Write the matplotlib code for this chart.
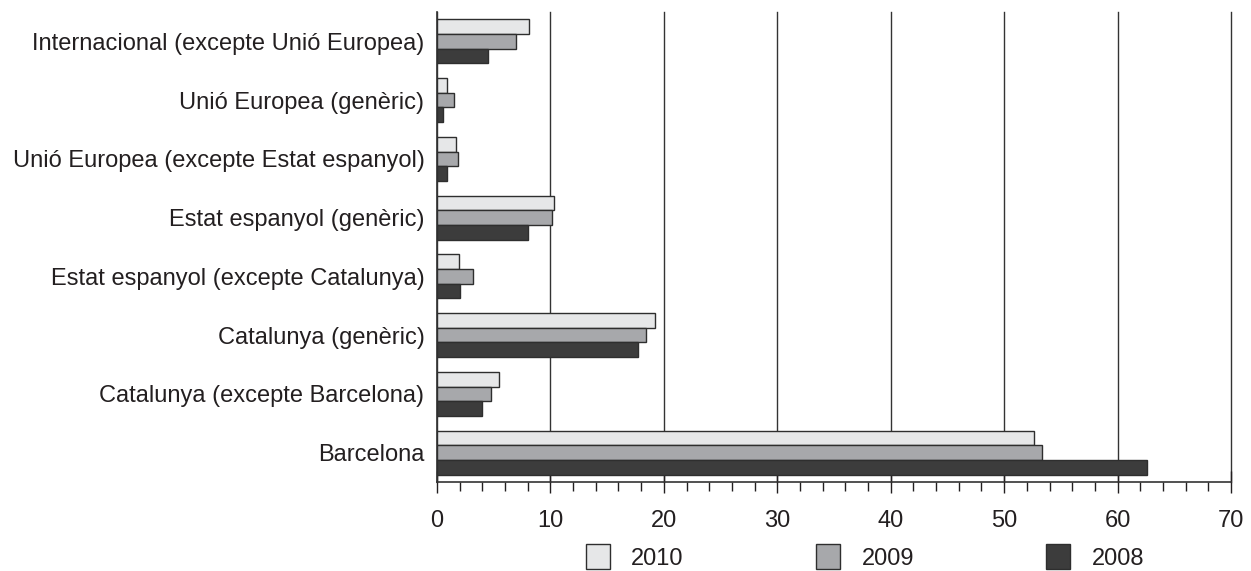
import matplotlib
matplotlib.use("Agg")
import matplotlib.pyplot as plt
import numpy as np
from matplotlib.ticker import MultipleLocator

plt.rcParams['font.family'] = ['Liberation Sans', 'DejaVu Sans']

categories = [
    "Barcelona",
    "Catalunya (excepte Barcelona)",
    "Catalunya (genèric)",
    "Estat espanyol (excepte Catalunya)",
    "Estat espanyol (genèric)",
    "Unió Europea (excepte Estat espanyol)",
    "Unió Europea (genèric)",
    "Internacional (excepte Unió Europea)",
]
v2010 = [52.6, 5.5, 19.2, 1.9, 10.35, 1.7, 0.9, 8.1]
v2009 = [53.3, 4.8, 18.4, 3.2, 10.15, 1.85, 1.5, 7.0]
v2008 = [62.6, 3.95, 17.75, 2.0, 8.05, 0.9, 0.5, 4.5]
series_labels = ["2010", "2009", "2008"]
colors = ["#e6e7e8", "#a7a8ab", "#3c3c3c"]
txt = "#231f20"
fs = 17

fig = plt.figure(figsize=(12.51, 5.71), dpi=100)
ax = fig.add_axes([437/1251, 89/571, (1231-437)/1251, 470/571])

y = np.arange(len(categories))
h = 0.25
handles = []
for vals, off, c, lab in zip([v2010, v2009, v2008], [h, 0, -h], colors, series_labels):
    b = ax.barh(y + off, vals, height=h, color=c, edgecolor="#2e2e2e", linewidth=1.0, label=lab, zorder=3)
    handles.append(b)

ax.set_xlim(0, 70)
ax.set_ylim(-0.5, 7.5)
ax.set_yticks(y)
ax.set_yticklabels(categories, fontsize=fs, color=txt)
ax.tick_params(axis='y', length=0, pad=9)
ax.xaxis.set_major_locator(MultipleLocator(10))
ax.xaxis.set_minor_locator(MultipleLocator(2))
ax.tick_params(axis='x', which='major', direction='inout', length=16, width=1.0, labelsize=fs, pad=12, colors=txt)
ax.tick_params(axis='x', which='minor', direction='out', length=6.5, width=1.0, colors=txt)
ax.grid(axis='x', which='major', color="#333333", linewidth=1.0, zorder=0)
for gl in ax.get_xgridlines():
    gl.set_clip_on(False)
ax.spines['top'].set_visible(False)
ax.spines['right'].set_visible(False)
for s in ['left', 'bottom']:
    ax.spines[s].set_color("#333333")
    ax.spines[s].set_linewidth(1.2)

fig.legend(handles=handles, labels=series_labels, loc='center', bbox_to_anchor=(865/1251, 1 - 557/571),
           ncol=3, frameon=False, fontsize=fs, handlelength=1.02, handleheight=1.2,
           handletextpad=0.9, columnspacing=5.6, labelcolor=txt)

fig.savefig("out.png", dpi=100)
